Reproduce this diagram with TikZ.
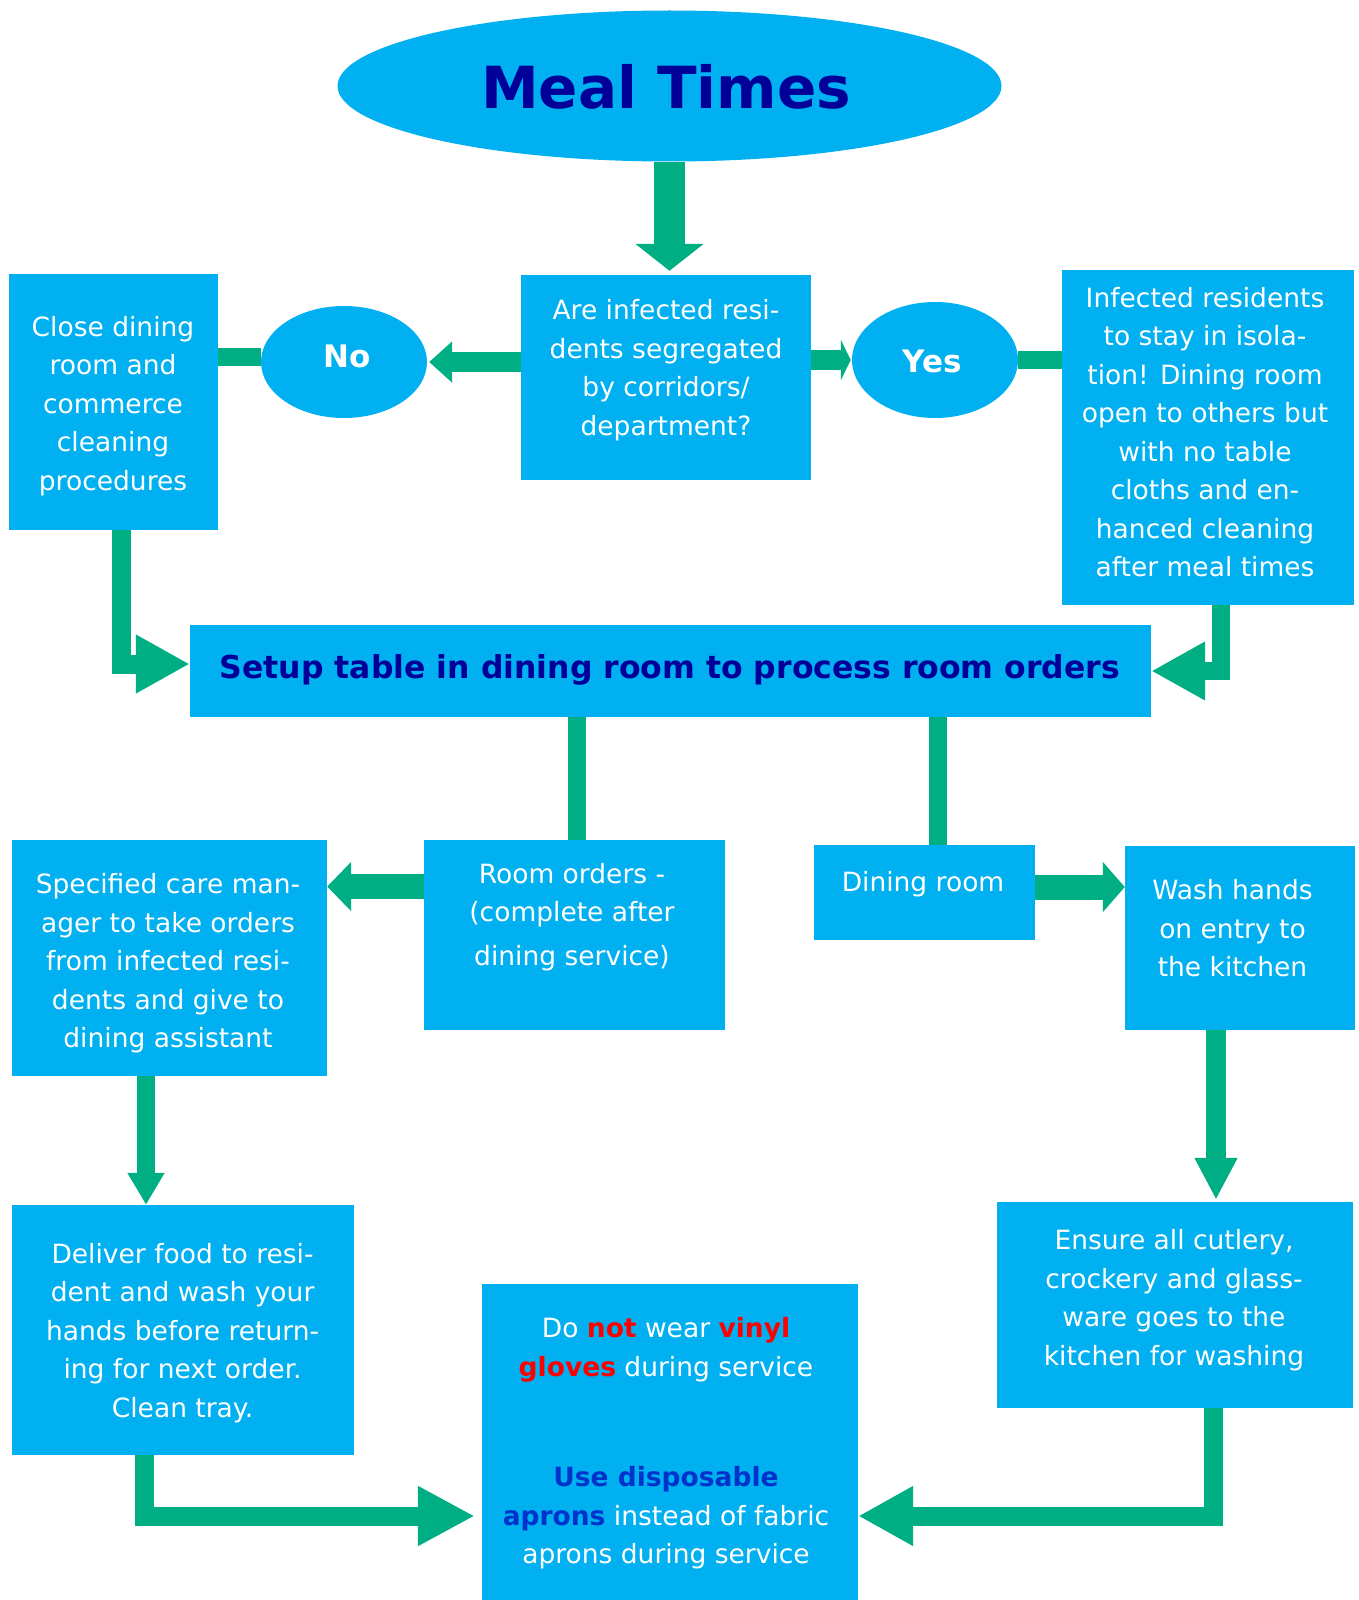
\documentclass[tikz,border=0pt]{standalone}
\usepackage{fontspec}
\setmainfont{DejaVu Sans}
\usetikzlibrary{arrows.meta,shapes.geometric}
\definecolor{boxblue}{HTML}{00B0F0}
\definecolor{arrgreen}{HTML}{00AE84}
\definecolor{navyblue}{HTML}{000099}
\definecolor{aproblue}{HTML}{0033CC}
\definecolor{warnred}{HTML}{FF0000}
\begin{document}
\begin{tikzpicture}[x=1pt,y=-1pt,
  box/.style={fill=boxblue, draw=none, rectangle, inner sep=0pt},
  oval/.style={fill=boxblue, draw=none, ellipse, inner sep=0pt},
  txt/.style={text=white, align=center, font=\fontsize{26.5}{38.5}\selectfont, inner sep=0pt},
  conn/.style={draw=arrgreen, line join=miter, line cap=butt}]
\useasboundingbox (0,0) rectangle (1359,1600);

% ellipses
\node[oval, minimum width=664pt, minimum height=151pt] (title) at (669.5,86) {};
\node[oval, minimum width=166pt, minimum height=112pt] (no) at (344,362) {};
\node[oval, minimum width=166pt, minimum height=116pt] (yes) at (935,360) {};

% boxes
\node[box, minimum width=208.5pt, minimum height=256pt] (close) at (113.25,402) {};
\node[box, minimum width=290pt, minimum height=205pt] (q) at (666,377.5) {};
\node[box, minimum width=292pt, minimum height=335pt] (inf) at (1208,437.5) {};
\node[box, minimum width=961pt, minimum height=92pt] (setup) at (670.5,671) {};
\node[box, minimum width=301pt, minimum height=190pt] (ro) at (574.5,935) {};
\node[box, minimum width=315pt, minimum height=236pt] (spec) at (169.5,958) {};
\node[box, minimum width=221pt, minimum height=95pt] (dr) at (924.5,892.5) {};
\node[box, minimum width=230pt, minimum height=184pt] (wash) at (1240,938) {};
\node[box, minimum width=356pt, minimum height=206pt] (ensure) at (1175,1305) {};
\node[box, minimum width=342pt, minimum height=250pt] (del) at (183,1330) {};
\node[box, minimum width=376pt, minimum height=316pt] (dn) at (670,1442) {};

% texts
\node[txt, text=navyblue, font=\fontsize{58}{68}\selectfont\bfseries] (titlet) at (666,87) {Meal Times};
\node[txt, font=\fontsize{31}{36}\selectfont\bfseries] (not) at (347,356) {No};
\node[txt, font=\fontsize{31}{36}\selectfont\bfseries] (yest) at (932.5,361) {Yes};
\node[txt] (closet) at (113,406) {Close dining\\room and\\commerce\\cleaning\\procedures};
\node[txt] (qt) at (666,370) {Are infected resi-\\dents segregated\\by corridors/\\department?};
\node[txt] (inft) at (1205,432) {Infected residents\\to stay in isola-\\tion! Dining room\\open to others but\\with no table\\cloths and en-\\hanced cleaning\\after meal times};
\node[txt, text=navyblue, font=\fontsize{31.5}{36}\selectfont\bfseries] (setupt) at (670,670) {Setup table in dining room to process room orders};
\node[txt] (rot) at (572,917) {Room orders -\\(complete after\\[5pt]dining service)};
\node[txt] (spect) at (168,963.5) {Specified care man-\\ager to take orders\\from infected resi-\\dents and give to\\dining assistant};
\node[txt] (drt) at (923,884.5) {Dining room};
\node[txt] (washt) at (1232.5,928.5) {Wash hands\\on entry to\\the kitchen};
\node[txt] (ensuret) at (1174,1300) {Ensure all cutlery,\\crockery and glass-\\ware goes to the\\kitchen for washing};
\node[txt] (delt) at (182.6,1333) {Deliver food to resi-\\dent and wash your\\hands before return-\\ing for next order.\\Clean tray.};
\node[txt] (dnt1) at (666,1350) {Do \textbf{\color{warnred}not} wear \textbf{\color{warnred}vinyl}\\\textbf{\color{warnred}gloves} during service};
\node[txt] (dnt2) at (666,1518) {\textbf{\color{aproblue}Use disposable}\\\textbf{\color{aproblue}aprons} instead of fabric\\aprons during service};

% connectors
\draw[conn, line width=31pt, -{Triangle[length=27pt,width=67pt]}] (title.south) -- ([yshift=4pt]title.south |- q.north);
\draw[conn, line width=20pt, -{Triangle[length=23pt,width=40pt]}] (q.west |- no.east) -- ([xshift=2pt]no.east);
\draw[conn, line width=18pt] ([yshift=5pt]no.west) -- ([yshift=5pt]no.west -| close.east);
\draw[conn, line width=20pt, -{Triangle[length=10pt,width=40pt]}] (q.east |- yes.west) -- ([xshift=-1pt]yes.west);
\draw[conn, line width=18pt] (yes.east) -- (yes.east -| inf.west);
\draw[conn, line width=19pt, -{Triangle[length=54pt,width=55pt]}] ([xshift=8pt]close.south) |- ([yshift=7pt]setup.west);
\draw[conn, line width=18pt, -{Triangle[length=54pt,width=55pt]}] ([xshift=13pt]inf.south) |- (setup.east);
\draw[conn, line width=18pt] ([xshift=2pt]ro.north |- setup.south) -- ([xshift=2pt]ro.north);
\draw[conn, line width=18pt] ([xshift=13pt]dr.north |- setup.south) -- ([xshift=13pt]dr.north);
\draw[conn, line width=25pt, -{Triangle[length=24pt,width=48pt]}] ([yshift=48.5pt]ro.west) -- ([yshift=48.5pt]ro.west -| spec.east);
\draw[conn, line width=25pt, -{Triangle[length=22pt,width=49pt]}] ([yshift=5.5pt]dr.east) -- ([yshift=5.5pt]dr.east -| wash.west);
\draw[conn, line width=20pt, -{Triangle[length=42pt,width=40pt]}] ([xshift=-24pt]wash.south) -- ([xshift=-24pt,yshift=2pt]wash.south |- ensure.north);
\draw[conn, line width=18pt, -{Triangle[length=32pt,width=35pt]}] ([xshift=-23.5pt]spec.south) -- ([xshift=-23.5pt]spec.south |- del.north);
\draw[conn, line width=19pt, -{Triangle[length=57pt,width=56pt]}, shorten >=7pt] ([xshift=-39pt]del.south) |- ([yshift=-74pt]dn.west);
\draw[conn, line width=19pt, -{Triangle[length=55pt,width=56pt]}] ([xshift=38.5pt]ensure.south) |- ([yshift=-74pt]dn.east);
\end{tikzpicture}
\end{document}
